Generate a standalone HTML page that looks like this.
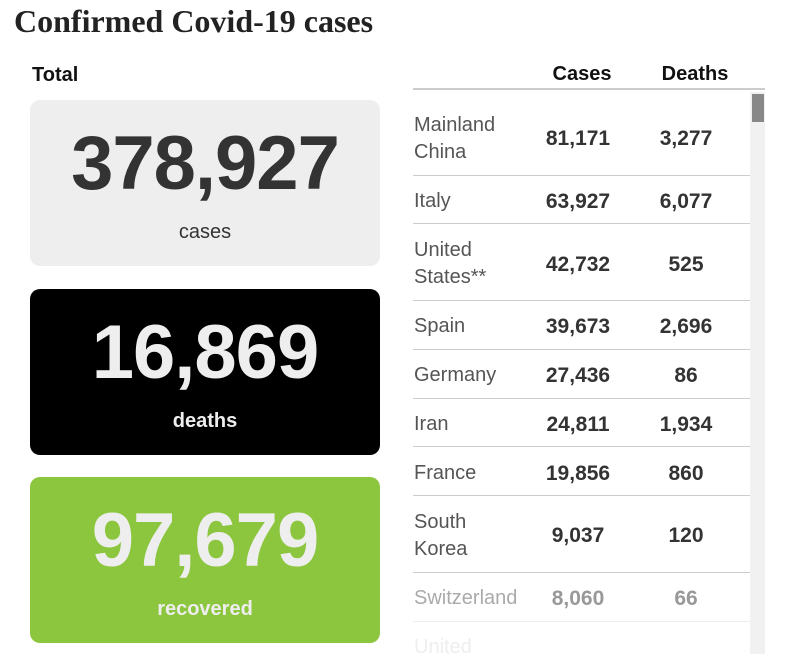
<!DOCTYPE html><html><head><style>
body{margin:0;width:800px;height:654px;background:#fff;position:relative;overflow:hidden;font-family:"Liberation Sans",sans-serif}
.a{position:absolute}
.box{position:absolute;left:30px;width:350px;height:166px;border-radius:10px;text-align:center}
.big{position:absolute;left:0;right:0;top:21px;font-size:76px;font-weight:bold;letter-spacing:-1px;line-height:86px}
.lab{position:absolute;left:0;right:0;top:120px;font-size:20px;line-height:24px}
.ln{position:absolute;left:413px;width:337px;height:1px;background:#ccc}
.n{position:absolute;left:414px;font-size:20px;color:#555;line-height:27px}
.c{position:absolute;width:100px;text-align:center;font-size:21px;font-weight:bold;color:#333;line-height:27px}
</style></head><body>
<div class="a" style="left:14px;top:3px;font-family:'Liberation Serif',serif;font-size:32px;font-weight:bold;color:#222">Confirmed Covid-19 cases</div>
<div class="a" style="left:32px;top:64px;font-size:20px;font-weight:bold;color:#111">Total</div>
<div class="box" style="top:100px;background:#eee;color:#333"><div class="big">378,927</div><div class="lab" style="color:#333">cases</div></div>
<div class="box" style="top:289px;background:#000;color:#eee"><div class="big">16,869</div><div class="lab" style="font-weight:bold">deaths</div></div>
<div class="box" style="top:477px;background:#8cc63f;color:#eee"><div class="big">97,679</div><div class="lab" style="font-weight:bold">recovered</div></div>
<div class="a" style="left:532px;top:63px;width:100px;text-align:center;font-size:20px;font-weight:bold;color:#111">Cases</div>
<div class="a" style="left:645px;top:63px;width:100px;text-align:center;font-size:20px;font-weight:bold;color:#111">Deaths</div>
<div class="a" style="left:413px;top:88px;width:352px;height:2px;background:#ccc"></div>
<div class="a" style="left:750px;top:92px;width:15px;height:562px;background:#f1f1f1"></div>
<div class="a" style="left:752px;top:94px;width:12px;height:28px;background:#888"></div>
<div class="n" style="top:112px">Mainland<br>China</div><div class="c" style="left:528px;top:125px">81,171</div><div class="c" style="left:636px;top:125px">3,277</div>
<div class="ln" style="top:175px"></div>
<div class="n" style="top:188px">Italy</div><div class="c" style="left:528px;top:188px">63,927</div><div class="c" style="left:636px;top:188px">6,077</div>
<div class="ln" style="top:223px"></div>
<div class="n" style="top:237px">United<br>States**</div><div class="c" style="left:528px;top:251px">42,732</div><div class="c" style="left:636px;top:251px">525</div>
<div class="ln" style="top:300px"></div>
<div class="n" style="top:313px">Spain</div><div class="c" style="left:528px;top:313px">39,673</div><div class="c" style="left:636px;top:313px">2,696</div>
<div class="ln" style="top:349px"></div>
<div class="n" style="top:362px">Germany</div><div class="c" style="left:528px;top:362px">27,436</div><div class="c" style="left:636px;top:362px">86</div>
<div class="ln" style="top:398px"></div>
<div class="n" style="top:411px">Iran</div><div class="c" style="left:528px;top:411px">24,811</div><div class="c" style="left:636px;top:411px">1,934</div>
<div class="ln" style="top:446px"></div>
<div class="n" style="top:460px">France</div><div class="c" style="left:528px;top:460px">19,856</div><div class="c" style="left:636px;top:460px">860</div>
<div class="ln" style="top:495px"></div>
<div class="n" style="top:509px">South<br>Korea</div><div class="c" style="left:528px;top:522px">9,037</div><div class="c" style="left:636px;top:522px">120</div>
<div class="ln" style="top:572px"></div>
<div class="n" style="top:585px;color:#aaa">Switzerland</div><div class="c" style="left:528px;top:585px;color:#999">8,060</div><div class="c" style="left:636px;top:585px;color:#999">66</div>
<div class="ln" style="top:621px;background:#eee"></div>
<div class="n" style="top:634px;color:#eee">United</div>
</body></html>
